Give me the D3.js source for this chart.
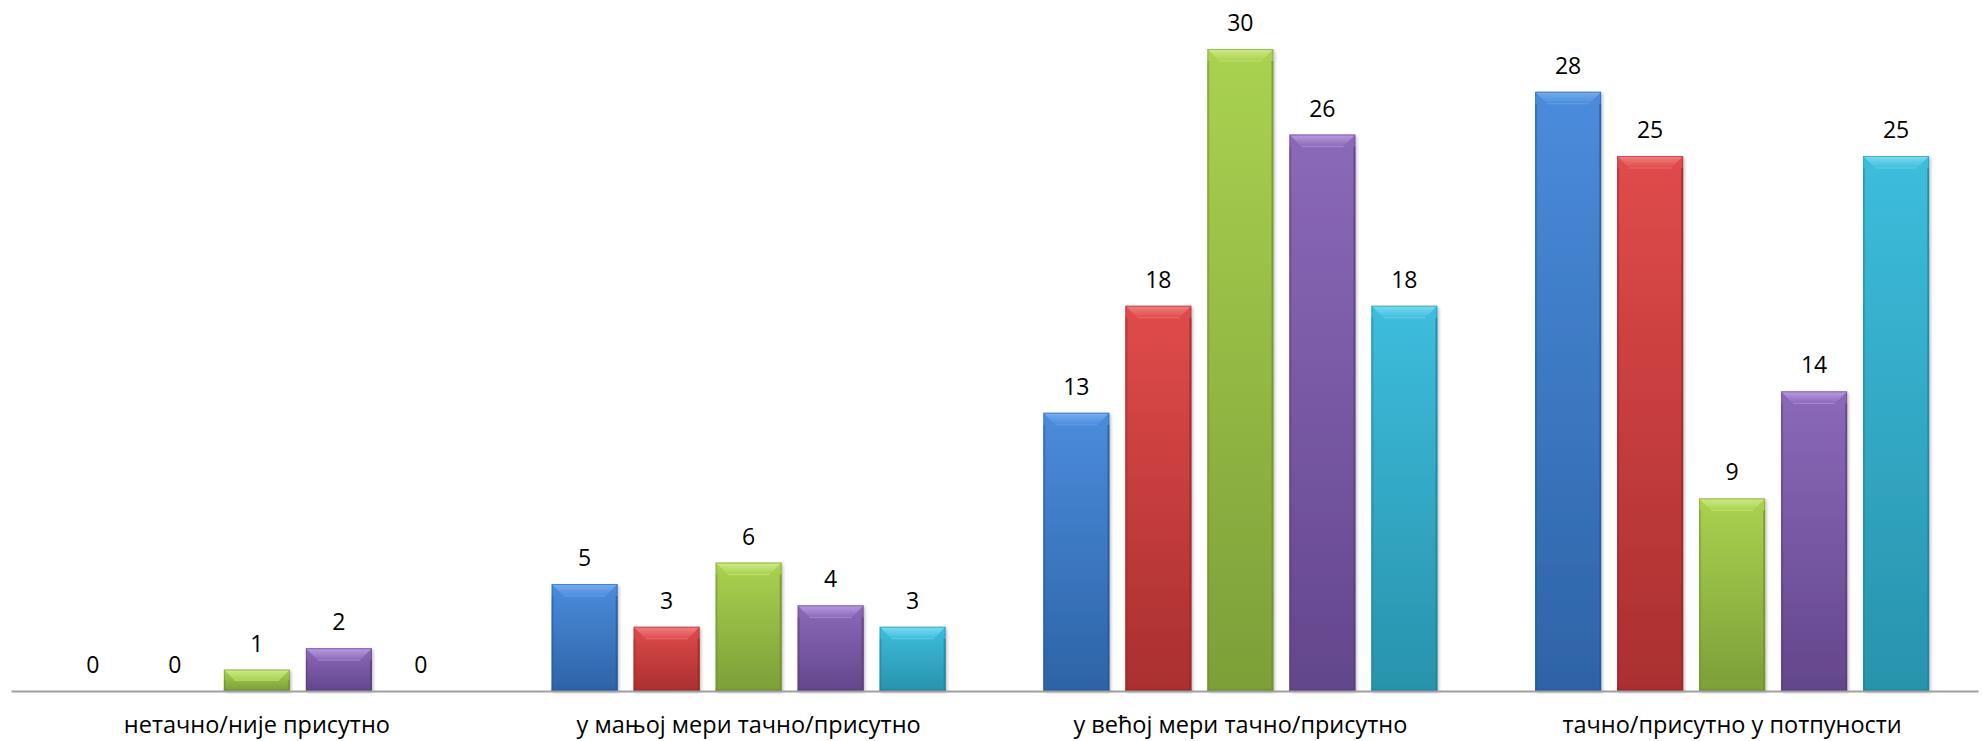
<!DOCTYPE html>
<html><head><meta charset="utf-8">
<script src="https://cdn.jsdelivr.net/npm/d3@7"></script>
<style>body{margin:0;background:#fff}svg{display:block}</style>
</head><body>
<svg id="c" width="1982" height="741"></svg>
<script>
const categories = ["нетачно/није присутно","у мањој мери тачно/присутно","у већој мери тачно/присутно","тачно/присутно у потпуности"];
const seriesNames = ["s1","s2","s3","s4","s5"];
const s1 = [0,5,13,28];
const s2 = [0,3,18,25];
const s3 = [1,6,30,9];
const s4 = [2,4,26,14];
const s5 = [0,3,18,25];
const seriesValues = [s1,s2,s3,s4,s5];
const colors = [
  {top:"#4A8CDC", bot:"#2E63A6", bev:"#77AEEE", edge:"#27579A"},
  {top:"#E04B4B", bot:"#AA2F2F", bev:"#F08080", edge:"#952727"},
  {top:"#AAD250", bot:"#7C9F38", bev:"#CDEA86", edge:"#6E8E2F"},
  {top:"#8B69B9", bot:"#63468C", bev:"#B89CE3", edge:"#573D7D"},
  {top:"#3DBDDD", bot:"#2893AC", bev:"#7CDCF2", edge:"#22809A"}
];
const FONT = "'Open Sans', 'Noto Sans', sans-serif";

const svg = d3.select("#c");
const left = 11, right = 1978, base = 691, topY = 49;
const y = d3.scaleLinear().domain([0,30]).range([base, topY]);
const x0 = d3.scaleBand().domain(categories).range([left,right]).padding(0);
const x1 = d3.scaleBand().domain(seriesNames).range([0,x0.bandwidth()]).paddingInner(0.195).paddingOuter(0.596);

const defs = svg.append("defs");
colors.forEach((c,i)=>{
  const g = defs.append("linearGradient").attr("id","g"+i).attr("x1",0).attr("y1",0).attr("x2",0).attr("y2",1);
  g.append("stop").attr("offset","0%").attr("stop-color",c.top);
  g.append("stop").attr("offset","100%").attr("stop-color",c.bot);
  const b = defs.append("linearGradient").attr("id","b"+i).attr("x1",0).attr("y1",0).attr("x2",0).attr("y2",1);
  b.append("stop").attr("offset","0%").attr("stop-color",c.bev);
  b.append("stop").attr("offset","100%").attr("stop-color",c.top);
});
const sh = defs.append("filter").attr("id","sh").attr("x","-10%").attr("y","-10%").attr("width","130%").attr("height","130%");
sh.append("feDropShadow").attr("dx",1.5).attr("dy",1.5).attr("stdDeviation",1.5).attr("flood-color","#000").attr("flood-opacity",0.25);

const data = [];
categories.forEach((cat,ci)=>{
  seriesNames.forEach((s,si)=>{
    data.push({cat, s, si, v: seriesValues[si][ci]});
  });
});

const bars = svg.append("g");
data.forEach(d=>{
  const bx = x0(d.cat) + x1(d.s);
  const bw = x1.bandwidth();
  const by = y(d.v);
  const bh = base - by;
  const g = bars.append("g");
  if (bh > 0) {
    const c = colors[d.si];
    const bev = Math.min(12, bh/2);
    g.append("rect").attr("x",bx).attr("y",by).attr("width",bw).attr("height",bh)
      .attr("fill","url(#g"+d.si+")").attr("filter","url(#sh)");
    g.append("path").attr("d",`M${bx},${by}L${bx+bw},${by}L${bx+bw-bev},${by+bev}L${bx+bev},${by+bev}Z`)
      .attr("fill","url(#b"+d.si+")");
    g.append("path").attr("d",`M${bx+bev},${by+bev}L${bx+bw-bev},${by+bev}`)
      .attr("stroke",c.bev).attr("stroke-width",1).attr("stroke-opacity",0.6);
    g.append("rect").attr("x",bx).attr("y",by+bev).attr("width",2).attr("height",bh-bev)
      .attr("fill",c.edge).attr("opacity",0.35);
    g.append("rect").attr("x",bx+bw-2).attr("y",by+bev).attr("width",2).attr("height",bh-bev)
      .attr("fill",c.edge).attr("opacity",0.6);
    g.append("rect").attr("x",bx).attr("y",base-2).attr("width",bw).attr("height",2).attr("fill",c.edge).attr("opacity",0.6);
    g.append("rect").attr("x",bx+0.5).attr("y",by+0.5).attr("width",bw-1).attr("height",bh-1)
      .attr("fill","none").attr("stroke",c.edge).attr("stroke-opacity",0.5).attr("stroke-width",1);
  }
  svg.append("text").attr("x",bx+bw/2).attr("y",by-18)
    .attr("text-anchor","middle").attr("font-family",FONT)
    .attr("font-size",23).attr("fill","#000").text(d.v);
});

const xAxis = d3.axisBottom(x0).tickSize(0).tickPadding(0);
const ax = svg.append("g").attr("transform",`translate(0,${base})`).call(xAxis);
ax.select(".domain").attr("stroke","#A0A0A0").attr("stroke-width",2);
ax.selectAll(".tick text").attr("font-family",FONT)
  .attr("font-size",23.5).attr("fill","#000").attr("dy",0).attr("y",42);
</script>
</body></html>
